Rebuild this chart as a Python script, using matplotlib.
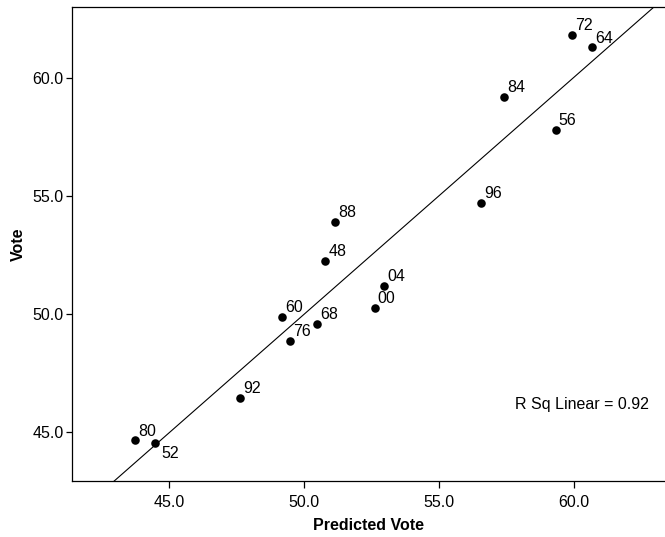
import numpy as np
import matplotlib.pyplot as plt

plt.rcParams['font.family'] = ['Liberation Sans', 'DejaVu Sans']

# élections : année, vote prédit, vote observé
years = ['72', '64', '84', '56', '96', '88', '48', '04', '00', '60', '68', '76', '92', '80', '52']
predicted = [59.93, 60.68, 57.44, 59.34, 56.56, 51.16, 50.79, 52.99, 52.63, 49.19, 50.50, 49.50, 47.65, 43.75, 44.50]
vote = [61.83, 61.31, 59.21, 57.81, 54.72, 53.90, 52.27, 51.21, 50.28, 49.89, 49.58, 48.87, 46.44, 44.65, 44.55]

xticks = [45.0, 50.0, 55.0, 60.0]
yticks = [45.0, 50.0, 55.0, 60.0]

fig = plt.figure(figsize=(6.65, 5.37), dpi=100)
ax = fig.add_axes([0.1083, 0.1048, 0.8917, 0.8822])

xlim = (41.41, 63.39)
ax.set_xlim(xlim)
ax.set_ylim(42.94, 63.02)

ax.scatter(predicted, vote, s=38, color='black', zorder=3, linewidths=0)

# droite de régression
slope, intercept = np.polyfit(predicted, vote, 1)
xs = np.array(xlim)
ax.plot(xs, slope * xs + intercept, color='black', lw=0.8)

for lab, x, y in zip(years, predicted, vote):
    if lab == '52':
        ax.annotate(lab, (x, y), xytext=(4, -2.5), textcoords='offset points',
                    ha='left', va='top', fontsize=11.5)
    else:
        ax.annotate(lab, (x, y), xytext=(2.2, 3.4), textcoords='offset points',
                    ha='left', va='baseline', fontsize=11.5)

ax.text(57.82, 46.16, 'R Sq Linear = 0.92', ha='left', va='center', fontsize=11.5)

ax.set_xticks(xticks)
ax.set_yticks(yticks)
ax.set_xticklabels(['%.1f' % t for t in xticks])
ax.set_yticklabels(['%.1f' % t for t in yticks])
ax.tick_params(axis='x', direction='out', length=5, width=0.9, labelsize=11.5, pad=5)
ax.tick_params(axis='y', direction='out', length=4, width=0.9, labelsize=11.5, pad=2)

for s in ['left', 'bottom', 'top']:
    ax.spines[s].set_linewidth(0.9)
ax.spines['right'].set_visible(False)

ax.set_xlabel('Predicted Vote', fontsize=11.5, fontweight='bold', labelpad=6)
ax.set_ylabel('Vote', fontsize=11.5, fontweight='bold', labelpad=5)

fig.savefig('out.png', dpi=100)
